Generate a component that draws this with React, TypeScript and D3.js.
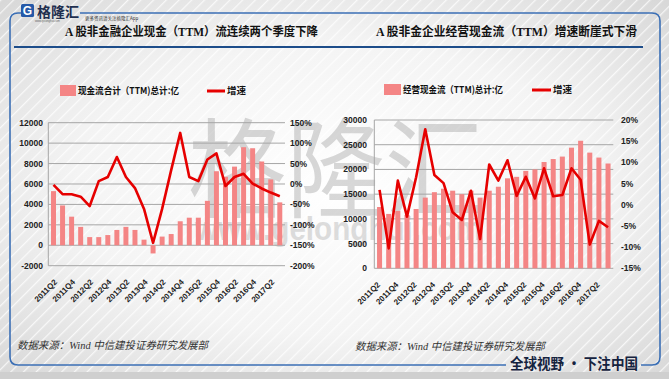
import React from 'react';
import * as d3 from 'd3';

const quarters = [
  '2011Q1','2011Q2','2011Q3','2011Q4','2012Q1','2012Q2','2012Q3','2012Q4',
  '2013Q1','2013Q2','2013Q3','2013Q4','2014Q1','2014Q2','2014Q3','2014Q4',
  '2015Q1','2015Q2','2015Q3','2015Q4','2016Q1','2016Q2','2016Q3','2016Q4',
  '2017Q1','2017Q2'
];
const cashTotal = [5300,3900,2800,1800,800,800,1000,1500,1800,1500,550,-800,850,1100,2350,2700,2700,4350,7250,6700,7700,9600,9500,8200,6450,4200];
const cashGrowth = [-2,-25,-25,-31,-54,7,17,66,17,-10,-61,-144,-61,34,125,17,7,60,75,-5,17,25,1,-11,-21,-30];
const opCash = [12400,11000,11600,10800,12000,14300,15400,16100,15700,15000,15700,14300,15700,16500,18200,18500,19700,20000,21500,22100,22600,24400,25800,23400,22400,21200];
const opGrowth = [3.5,-10.3,5.7,-2.8,6.5,17.8,7,5.1,-1.8,-3.6,3.3,-8.1,9.5,5.7,10.5,2.1,6.6,1.5,8.6,2,2.3,8.6,5.9,-9.4,-3.8,-5.3];

const leftTicks = [-2000,0,2000,4000,6000,8000,10000,12000];
const leftPctTicks = [-200,-150,-100,-50,0,50,100,150];
const rightTicks = [0,5000,10000,15000,20000,25000,30000];
const rightPctTicks = [-15,-10,-5,0,5,10,15,20];

const title1 = 'A 股非金融企业现金（TTM）流连续两个季度下降';
const title2 = 'A 股非金企业经营现金流（TTM）增速断崖式下滑';
const legendBar1 = '现金流合计（TTM)总计:亿';
const legendBar2 = '经营现金流（TTM)总计:亿';
const legendLine = '增速';
const source = '数据来源：Wind 中信建投证券研究发展部';
const slogan = '全球视野 · 下注中国';

const BAR = '#f48585';
const LINE = '#e60000';
const GRID = '#a6a6a6';
const AX_FONT = 'Liberation Sans, Arial, sans-serif';
const CJK = '"Noto Sans CJK SC", sans-serif';

type ChartProps = {
  x0: number; x1: number; yTop: number; yBot: number;
  bars: number[]; growth: number[];
  yDom: [number, number]; pDom: [number, number];
  yTicks: number[]; pTicks: number[];
  leftLabelX: number; rightLabelX: number; labelShift: number;
};

function Chart(p: ChartProps) {
  const x = d3.scaleBand<string>().domain(quarters).range([p.x0, p.x1]).paddingInner(0.45).paddingOuter(0.3);
  const y = d3.scaleLinear().domain(p.yDom).range([p.yBot, p.yTop]);
  const yp = d3.scaleLinear().domain(p.pDom).range([p.yBot, p.yTop]);
  const line = d3.line<number>()
    .x((_, i) => (x(quarters[i]) as number) + x.bandwidth() / 2)
    .y((d) => yp(d));
  return (
    <g>
      {p.yTicks.map((t) => (
        <line key={'g' + t} x1={p.x0} x2={p.x1} y1={y(t)} y2={y(t)} stroke={GRID} strokeWidth={1} />
      ))}
      <line x1={p.x0} x2={p.x0} y1={p.yTop} y2={p.yBot} stroke={GRID} strokeWidth={1} />
      {p.bars.map((v, i) => (
        <rect key={'b' + i} x={x(quarters[i])} width={x.bandwidth()}
          y={Math.min(y(v), y(0))} height={Math.abs(y(v) - y(0))} fill={BAR} />
      ))}
      <path d={line(p.growth) || ''} fill="none" stroke={LINE} strokeWidth={2.6} strokeLinejoin="round" />
      {p.yTicks.map((t) => (
        <text key={'l' + t} x={p.leftLabelX} y={y(t)} dy="0.35em" textAnchor="end"
          fontFamily={AX_FONT} fontWeight="bold" fontSize={8.5} fill="#222">{t}</text>
      ))}
      {p.pTicks.map((t) => (
        <text key={'r' + t} x={p.rightLabelX} y={yp(t)} dy="0.35em" textAnchor="start"
          fontFamily={AX_FONT} fontWeight="bold" fontSize={8.5} fill="#222">{t + '%'}</text>
      ))}
      {quarters.map((q, i) => i % 2 === 1 ? (
        <text key={'x' + q} transform={`translate(${(x(q) as number) + x.bandwidth() / 2 + p.labelShift},${p.yBot + 17}) rotate(-45)`}
          textAnchor="end" fontFamily={AX_FONT} fontWeight="bold" fontSize={8} fill="#222">{q}</text>
      ) : null)}
    </g>
  );
}

export default function App() {
  return (
    <svg width={669} height={379} style={{ position: 'absolute', left: 0, top: 0 }}>
      <defs>
        <pattern id="stripes" width="9" height="9" patternUnits="userSpaceOnUse" patternTransform="rotate(45)">
          <rect width="9" height="9" fill="none" />
          <line x1="0" y1="0" x2="0" y2="9" stroke="#ffffff" strokeWidth="2.5" opacity="0.75" />
        </pattern>
        <radialGradient id="bgGrad" cx="0.5" cy="0.5" r="0.7">
          <stop offset="0" stopColor="#ffffff" />
          <stop offset="0.55" stopColor="#f4f4f4" />
          <stop offset="1" stopColor="#d8d8d8" />
        </radialGradient>
      </defs>
      <rect x={0} y={0} width={669} height={379} fill="url(#bgGrad)" />
      <rect x={0} y={0} width={669} height={379} fill="url(#stripes)" />
      <rect x={0} y={372} width={669} height={7} fill="#cfcfcf" />

      {/* frame */}
      <path d="M 21,13 L 18,13 Q 10,13 10,21 L 10,357 Q 10,365 18,365 L 506,365 M 641,365 L 652,365 Q 660,365 660,357 L 660,21 Q 660,13 652,13 L 80,13"
        fill="none" stroke="#3b6fb5" strokeWidth={1.6} />
      <line x1={14} x2={643} y1={47} y2={47} stroke="#1d4d8a" strokeWidth={2} />

      {/* logo */}
      <rect x={21} y={4} width={13} height={13} rx={1.5} fill="#2659a8" />
      <text x={27.5} y={14.5} textAnchor="middle" fontFamily={AX_FONT} fontWeight="bold" fontSize={12} fill="#fff">G</text>
      <text x={37} y={17} fontFamily={CJK} fontWeight="bold" fontSize={14} fill="#1f2f4f">格隆汇</text>
      <text x={85} y={20} fontFamily={CJK} fontSize={4.5} fill="#333">更多资讯请关注格隆汇App</text>
      <text x={35} y={22} fontFamily={AX_FONT} fontSize={2.8} fill="#666">www.gelonghui.com</text>

      {/* titles */}
      <text x={65} y={36} fontFamily={'"Liberation Serif", "Noto Sans CJK SC", serif'} fontWeight="bold" fontSize={12}
        fill="#111" textLength={253} lengthAdjust="spacingAndGlyphs">{title1}</text>
      <text x={376} y={36} fontFamily={'"Liberation Serif", "Noto Sans CJK SC", serif'} fontWeight="bold" fontSize={12}
        fill="#111" textLength={261} lengthAdjust="spacingAndGlyphs">{title2}</text>

      {/* watermark */}
      <text x={188} y={209} fontFamily={CJK} fontSize={108} fill="#8a8a8a" opacity={0.33}
        textLength={295} lengthAdjust="spacingAndGlyphs">格隆汇</text>
      <text x={195} y={240} fontFamily={AX_FONT} fontWeight="bold" fontSize={34} fill="#8a8a8a" opacity={0.28}
        textLength={287} lengthAdjust="spacingAndGlyphs">www.gelonghui.com</text>

      {/* legends */}
      <rect x={60} y={85} width={16} height={11} fill={BAR} />
      <text x={78} y={93.5} fontFamily={CJK} fontWeight="bold" fontSize={9.5} fill="#111" textLength={101} lengthAdjust="spacingAndGlyphs">{legendBar1}</text>
      <line x1={207} x2={225} y1={91} y2={91} stroke={LINE} strokeWidth={3} />
      <text x={227} y={93.5} fontFamily={CJK} fontWeight="bold" fontSize={9.5} fill="#111">{legendLine}</text>

      <rect x={384} y={84} width={17} height={11} fill={BAR} />
      <text x={403} y={92.5} fontFamily={CJK} fontWeight="bold" fontSize={9.5} fill="#111" textLength={100} lengthAdjust="spacingAndGlyphs">{legendBar2}</text>
      <line x1={532} x2={551} y1={90} y2={90} stroke={LINE} strokeWidth={3} />
      <text x={553} y={92.5} fontFamily={CJK} fontWeight="bold" fontSize={9.5} fill="#111">{legendLine}</text>

      <Chart x0={48.3} x1={285} yTop={122.7} yBot={265.7} bars={cashTotal} growth={cashGrowth}
        yDom={[-2000, 12000]} pDom={[-200, 150]} yTicks={leftTicks} pTicks={leftPctTicks}
        leftLabelX={43} rightLabelX={290} labelShift={-5} />
      <Chart x0={374.3} x1={613.3} yTop={120} yBot={268.3} bars={opCash} growth={opGrowth}
        yDom={[0, 30000]} pDom={[-15, 20]} yTicks={rightTicks} pTicks={rightPctTicks}
        leftLabelX={367} rightLabelX={621} labelShift={-8} />

      {/* sources */}
      <text x={17} y={349} fontFamily={'"Liberation Serif", "Noto Sans CJK SC", serif'} fontStyle="italic" fontSize={10.5} fill="#333"
        textLength={191} lengthAdjust="spacingAndGlyphs">{source}</text>
      <text x={355} y={350} fontFamily={'"Liberation Serif", "Noto Sans CJK SC", serif'} fontStyle="italic" fontSize={10.5} fill="#333"
        textLength={190} lengthAdjust="spacingAndGlyphs">{source}</text>

      <text x={510} y={369} fontFamily={CJK} fontWeight="bold" fontSize={14.5} fill="#15233f"
        textLength={128} lengthAdjust="spacingAndGlyphs">{slogan}</text>
    </svg>
  );
}
